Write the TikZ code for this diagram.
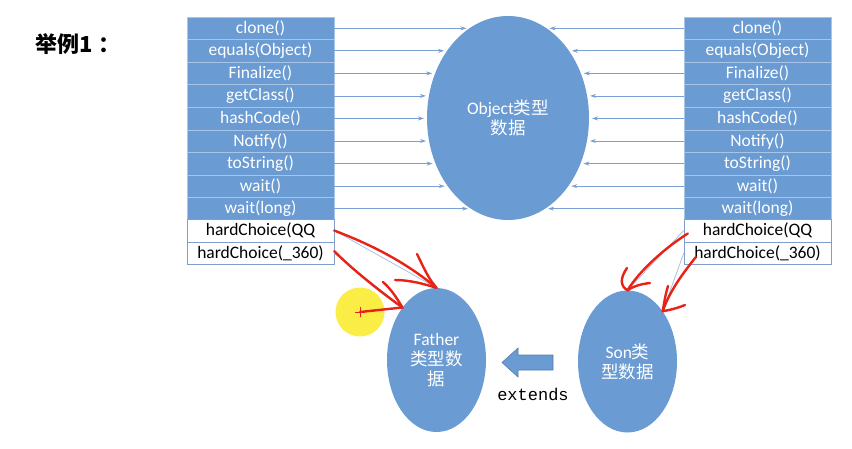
\documentclass[tikz,border=0pt]{standalone}
\usepackage{fontspec}
\setmainfont{Carlito}
\setmonofont{Liberation Mono}
\newfontfamily\cjk{Noto Sans CJK SC}
\usetikzlibrary{shapes.geometric,arrows.meta}
\definecolor{objblue}{RGB}{106,155,211}
\definecolor{cellline}{RGB}{168,196,230}
\definecolor{whiteline}{RGB}{128,158,204}
\definecolor{thinblue}{RGB}{120,160,212}
\definecolor{penred}{RGB}{232,34,20}
\definecolor{hilite}{RGB}{250,238,70}

\begin{document}
\begin{tikzpicture}[x=1pt,y=-1pt,
    txt/.style={font=\fontsize{17.5}{20}\selectfont},
    bluecell/.style={txt,draw=cellline,fill=objblue,text=white,minimum width=147,minimum height=22.55,inner sep=0},
    whitecell/.style={txt,draw=whiteline,fill=white,text=black,minimum width=147,minimum height=22.55,inner sep=0},
    blob/.style={ellipse,fill=objblue,text=white,inner sep=0,align=center,txt},
    thinarrow/.style={thinblue,line width=0.8pt,-{Stealth[length=6pt,width=4pt]}},
    thinline/.style={thinblue!70,line width=0.7pt},
    redpen/.style={penred,line width=2.4pt,line cap=round,line join=round}]
\useasboundingbox (0,0) rectangle (852,448);

\node[font=\cjk\bfseries\fontsize{22}{26}\selectfont] (title) at (78,44) {举例1\hspace{6pt}：};

% method tables
\foreach \m [count=\i] in {clone(),equals(Object),Finalize(),getClass(),hashCode(),Notify(),toString(),wait(),wait(long)} {
  \node[bluecell] (L\i) at (260.5,{17+22.55*(\i-0.5)}) {\m};
  \node[bluecell] (R\i) at (757.5,{17+22.55*(\i-0.5)}) {\m};
}
\node[whitecell] (L10) at (260.5,230.5) {hardChoice(QQ};
\node[whitecell] (L11) at (260.5,253.1) {hardChoice(\_360)};
\node[whitecell] (R10) at (757.5,230.5) {hardChoice(QQ};
\node[whitecell] (R11) at (757.5,253.1) {hardChoice(\_360)};

% data blobs
\node[blob,minimum width=162,minimum height=204] (obj) at (508,118) {Object{\cjk 类型}\\{\cjk 数据}};
\node[blob,minimum width=99,minimum height=144] (fa) at (436.5,360) {Father\\{\cjk 类型数}\\{\cjk 据}};
\node[blob,minimum width=99,minimum height=142] (son) at (627.5,361.5) {Son{\cjk 类}\\{\cjk 型数据}};

% extends arrow
\draw[fill=objblue,draw=objblue!80!black,line width=0.6pt,line join=miter]
  (502,362.5) -- (518,348) -- (518,355) -- (553,355) -- (553,370) -- (518,370) -- (518,377) -- cycle;
\node[font=\ttfamily\fontsize{17}{20}\selectfont] (extlbl) at (533,394) {extends};

% arrows to the Object blob
\foreach \i in {1,...,9} {
  \pgfmathsetmacro\yy{17+22.55*(\i-0.5)}
  \pgfmathsetmacro\xoff{81*sqrt(1-((\yy-118)/102)^2)}
  \coordinate (oL\i) at ({505-\xoff},\yy);
  \coordinate (oR\i) at ({511+\xoff},\yy);
  \draw[thinarrow] (L\i.east) -- (oL\i);
  \draw[thinarrow] (R\i.west) -- (oR\i);
}

\draw[thinline] (L10.east) -- (fa.north);
\draw[thinline] (L11.east) -- (fa.123);
\draw[thinline] (R10.west) -- (son.north);
\draw[thinline] (R11.west) -- (son.55);

% pen marks
\node[circle,fill=hilite,minimum size=49,inner sep=0] (cur) at (360,312) {};
\draw[penred,line width=0.8pt] ([xshift=-5]cur.center) -- ([xshift=5]cur.center);
\draw[penred,line width=0.8pt] ([yshift=-5]cur.center) -- ([yshift=5]cur.center);

\draw[redpen] (L10.east) .. controls (380,248) and (410,266) .. (fa.north);
\draw[redpen] (417,254) .. controls (424,268) and (428,278) .. (fa.north);
\draw[redpen] (395,280) .. controls (410,280) and (424,284) .. (fa.north);

\draw[redpen] ([yshift=2]L11.east) .. controls (355,272) and (385,295) .. (fa.123);
\draw[redpen] (383,282) .. controls (392,290) and (398,300) .. (fa.123);
\draw[redpen] (fa.123) -- (cur.center);

\draw[redpen] ([shift={(4,3)}]R10.west) .. controls (665,248) and (640,270) .. (son.north);
\draw[redpen] (627,268) .. controls (620,278) and (620,286) .. (son.north);
\draw[redpen] (650,283) .. controls (640,284) and (632,287) .. (son.north);

\draw[redpen] ([shift={(12,4)}]R11.west) .. controls (684,272) and (670,290) .. (son.55);
\draw[redpen] (668,286) .. controls (665,296) and (664,304) .. (son.55);
\draw[redpen] (685,305) .. controls (678,308) and (670,310) .. (son.55);
\end{tikzpicture}
\end{document}
